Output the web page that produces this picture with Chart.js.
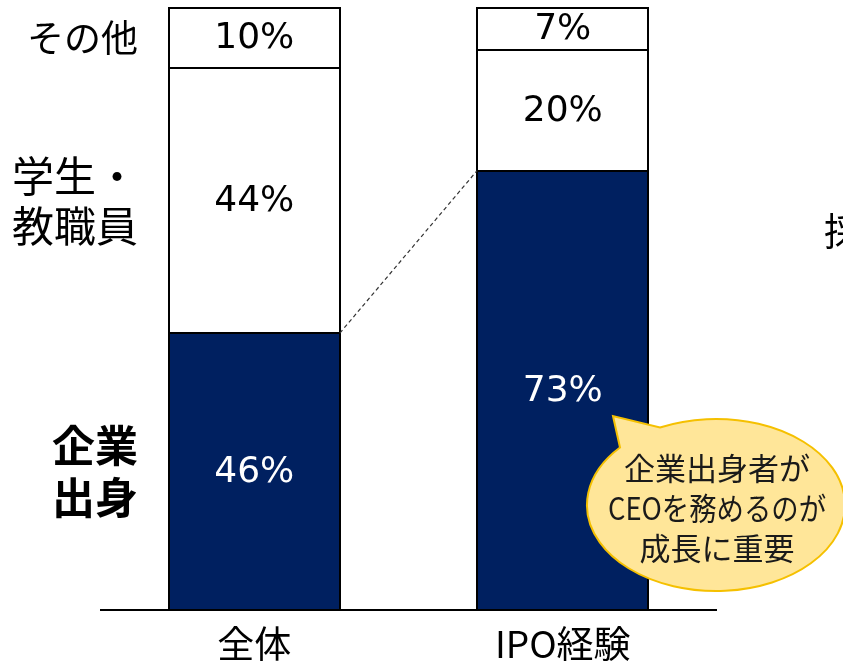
<!DOCTYPE html>
<html>
<head>
<meta charset="utf-8">
<script src="https://cdn.jsdelivr.net/npm/chart.js@4/dist/chart.umd.min.js"></script>
<style>
  html, body { margin: 0; padding: 0; background: #fff; }
  #wrap { width: 843px; height: 664px; }
</style>
</head>
<body>
<div id="wrap"><canvas id="ceoChart" width="843" height="664"></canvas></div>
<script>
// categories and series (percent)
const categories = ['全体', 'IPO経験'];
const seriesNames = ['企業出身', '学生・教職員', 'その他'];
const companyValues = [46, 73];
const academicValues = [44, 20];
const otherValues = [10, 7];

// left-side row labels (multi-line)
const rowLabels = [['企業', '出身'], ['学生・', '教職員'], ['その他']];
const calloutLines = ['企業出身者が', 'CEOを務めるのが', '成長に重要'];

const NAVY = '#002060';
const JP_FONT = '"Noto Sans CJK JP", "Noto Sans", sans-serif';
const NUM_FONT = '"DejaVu Sans", sans-serif';

// black outline of every segment
const segmentOutlines = {
    id: 'segmentOutlines',
    afterDatasetsDraw(chart) {
        const ctx = chart.ctx;
        ctx.save();
        ctx.strokeStyle = '#000';
        ctx.lineWidth = 2;
        chart.data.datasets.forEach((ds, di) => {
            chart.getDatasetMeta(di).data.forEach(bar => {
                const l = Math.round(bar.x - bar.width / 2);
                const r = Math.round(bar.x + bar.width / 2);
                const t = Math.round(bar.y);
                const b = Math.round(bar.base);
                ctx.strokeRect(l, t, r - l, b - t);
            });
        });
        ctx.restore();
    }
};

// percent labels in the middle of each segment
const segmentLabels = {
    id: 'segmentLabels',
    afterDatasetsDraw(chart) {
        const ctx = chart.ctx;
        ctx.save();
        ctx.textAlign = 'center';
        ctx.textBaseline = 'middle';
        ctx.font = '36px ' + NUM_FONT;
        chart.data.datasets.forEach((ds, di) => {
            chart.getDatasetMeta(di).data.forEach((bar, i) => {
                ctx.fillStyle = di === 0 ? '#ffffff' : '#000000';
                ctx.fillText(ds.data[i] + '%', bar.x, (bar.y + bar.base) / 2 + 1);
            });
        });
        ctx.restore();
    }
};

// row names on the left, baseline, category names, dashed connector
const decorations = {
    id: 'decorations',
    afterDatasetsDraw(chart) {
        const ctx = chart.ctx;
        const area = chart.chartArea;
        const y = chart.scales.y;
        ctx.save();

        // baseline
        ctx.strokeStyle = '#000';
        ctx.lineWidth = 2;
        ctx.beginPath();
        ctx.moveTo(area.left, Math.round(y.getPixelForValue(0)));
        ctx.lineTo(area.right, Math.round(y.getPixelForValue(0)));
        ctx.stroke();

        // category names under the bars
        ctx.fillStyle = '#000';
        ctx.textAlign = 'center';
        ctx.textBaseline = 'middle';
        ctx.font = '37px ' + JP_FONT;
        const meta0 = chart.getDatasetMeta(0);
        categories.forEach((c, i) => {
            ctx.fillText(c, meta0.data[i].x, 644);
        });

        // row labels, centred on the first bar's segments
        ctx.textAlign = 'right';
        const rowFonts = ['bold 43px ', '42px ', '37px '];
        const rowGaps = [52, 50, 0];
        let acc = 0;
        chart.data.datasets.forEach((ds, di) => {
            const v = ds.data[0];
            const mid = y.getPixelForValue(acc + v / 2);
            acc += v;
            const lines = rowLabels[di];
            ctx.font = rowFonts[di] + JP_FONT;
            lines.forEach((t, k) => {
                ctx.fillText(t, 138, mid + (k - (lines.length - 1) / 2) * rowGaps[di]);
            });
        });

        // dashed connector between top of navy segments
        const b1 = meta0.data[0];
        const b2 = meta0.data[1];
        ctx.strokeStyle = '#333';
        ctx.lineWidth = 1.2;
        ctx.setLineDash([4, 3]);
        ctx.beginPath();
        ctx.moveTo(b1.x + b1.width / 2, b1.y);
        ctx.lineTo(b2.x - b2.width / 2, b2.y);
        ctx.stroke();
        ctx.setLineDash([]);

        // cut-off text at the right edge
        ctx.textAlign = 'left';
        ctx.font = '38px ' + JP_FONT;
        ctx.fillText('採', 824, 231);

        ctx.restore();
    }
};

// yellow speech bubble
const callout = {
    id: 'callout',
    afterDraw(chart) {
        const ctx = chart.ctx;
        const cx = 716, cy = 505, rx = 129, ry = 86;
        const t1 = -2.41, t2 = -2.02;
        ctx.save();
        ctx.beginPath();
        ctx.moveTo(cx + rx * Math.cos(t1), cy + ry * Math.sin(t1));
        ctx.lineTo(613, 416);
        ctx.lineTo(cx + rx * Math.cos(t2), cy + ry * Math.sin(t2));
        ctx.ellipse(cx, cy, rx, ry, 0, t2, t1 + Math.PI * 2, false);
        ctx.closePath();
        ctx.fillStyle = '#ffe699';
        ctx.fill();
        ctx.strokeStyle = '#f5c000';
        ctx.lineWidth = 2;
        ctx.stroke();

        ctx.fillStyle = '#1a1a1a';
        ctx.textAlign = 'center';
        ctx.textBaseline = 'middle';
        ctx.font = '31px ' + JP_FONT;
        calloutLines.forEach((t, i) => {
            ctx.fillText(t, 717, 468 + i * 40, 218);
        });
        ctx.restore();
    }
};

new Chart(document.getElementById('ceoChart').getContext('2d'), {
    type: 'bar',
    data: {
        labels: categories,
        datasets: [
            { label: seriesNames[0], data: companyValues, backgroundColor: NAVY, borderWidth: 0 },
            { label: seriesNames[1], data: academicValues, backgroundColor: '#ffffff', borderWidth: 0 },
            { label: seriesNames[2], data: otherValues, backgroundColor: '#ffffff', borderWidth: 0 }
        ]
    },
    options: {
        responsive: false,
        animation: false,
        layout: { padding: { left: 100, right: 126, top: 8, bottom: 54 } },
        datasets: { bar: { barPercentage: 0.555, categoryPercentage: 1 } },
        scales: {
            x: { stacked: true, display: false },
            y: { stacked: true, display: false, min: 0, max: 100 }
        },
        plugins: {
            legend: { display: false },
            tooltip: { enabled: false }
        }
    },
    plugins: [segmentOutlines, segmentLabels, decorations, callout]
});
</script>
</body>
</html>
